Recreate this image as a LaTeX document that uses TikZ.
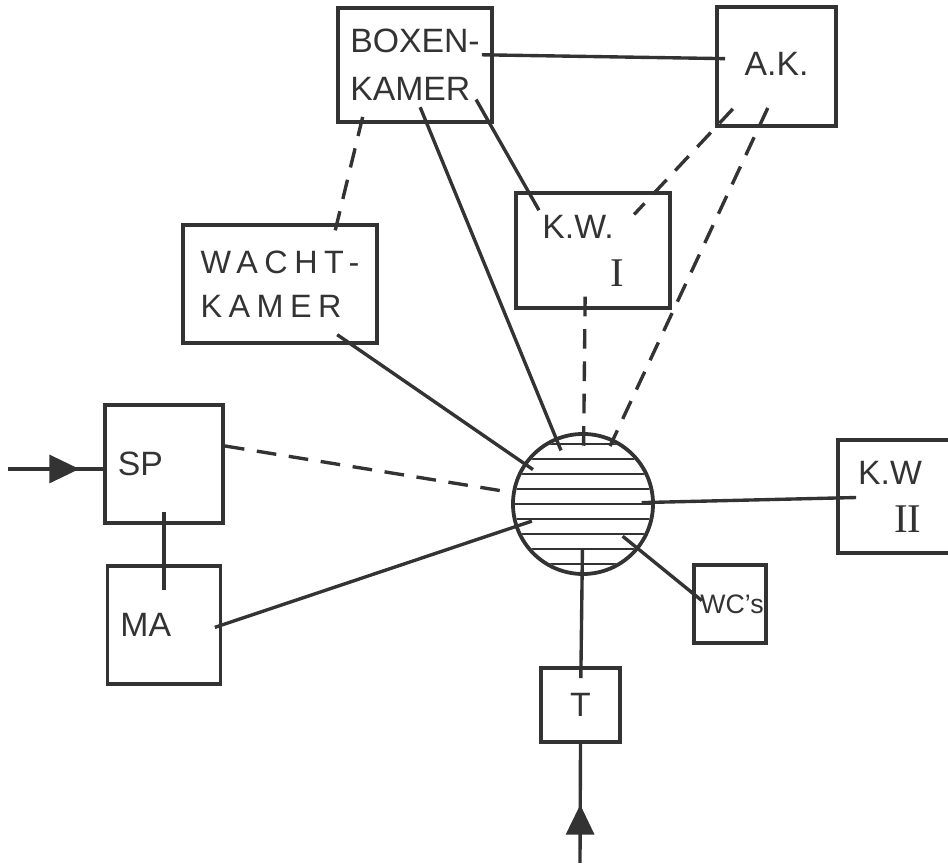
\documentclass[tikz,border=0pt]{standalone}
\usepackage{fontspec}
\setmainfont{Liberation Sans}
\newfontfamily\romanum{Liberation Serif}
\usetikzlibrary{arrows.meta,positioning,decorations.markings}
\colorlet{ink}{black!80}
\newcommand{\hand}{\fontsize{24}{34}\selectfont}
\newcommand{\wachthand}{\fontsize{23}{31}\selectfont\addfontfeatures{LetterSpace=20}}
\newcommand{\smallhand}{\fontsize{19}{22}\selectfont}
\newcommand{\numeral}[1]{{\romanum\fontsize{29}{34}\selectfont #1}}

\begin{document}
\begin{tikzpicture}[x=0.025cm,y=0.025cm,
  room/.style={rectangle,draw=ink,line width=2.7pt,inner sep=0.25cm,
               align=left,text=ink,font=\hand},
  link/.style={draw=ink,line width=2.4pt},
  trail/.style={link,dash pattern=on 14pt off 9pt},
  reach/.style 2 args={shorten <=-#1,shorten >=-#2},
  midtip/.style={postaction={decorate},decoration={markings,
    mark=at position #1 with {\arrow{Triangle[length=0.75cm,width=0.7cm]}}}}]

\clip (0,0) rectangle (948,865);

\node[room,minimum width=3.85cm,minimum height=2.85cm] (boxen) at (415,800) {BOXEN-\\KAMER};
\node[room,minimum width=2.975cm,minimum height=2.975cm,align=center] (ak) at (776.5,798.5)
  {\raisebox{0.15cm}{A.K.}};
\node[room,minimum width=3.85cm,minimum height=2.875cm] (kw1) at (593,614.5)
  {K.W.\hspace*{0.75cm}\\\hspace*{1.7cm}\numeral{I}};
\node[room,minimum width=4.85cm,minimum height=2.95cm,font=\wachthand] (wacht) at (280,581) {WACHT-\\KAMER};
\node[room,text width=2.3cm,inner xsep=0.325cm,minimum height=2.95cm] (sp) at (164,401) {SP};
\node[room,text width=2.175cm,inner xsep=0.325cm,minimum height=2.95cm,below=0.975cm of sp] (ma) {MA};
\node[room,minimum width=3.1cm,minimum height=2.825cm] (kw2) at (900,368.5)
  {K.W\hspace*{0.5cm}\\\hspace*{0.9cm}\numeral{II}};
\node[room,minimum width=1.65cm,minimum height=1.95cm,inner sep=0.05cm,align=center,font=\smallhand] (wc) at (730,261)
  {\hspace*{0.1cm}WC's};
\node[room,minimum width=1.975cm,minimum height=1.85cm,align=center] (t) at (580.5,160) {T};
\node[circle,draw=ink,line width=2.7pt,minimum size=3.5cm,inner sep=0pt] (hub) at (583,361) {};

\begin{scope}
  \clip (hub.center) circle (1.7cm);
  \foreach \dy in {-60,-45,...,60}
    \draw[link,line width=2pt] (hub.center) ++(-75,\dy) -- ++(150,0);
\end{scope}

\coordinate (spin) at (8,396);
\coordinate (tin) at (580,2);
\draw[link,midtip=0.75] (spin) -- (spin -| sp.west);
\draw[link,midtip=0.49] (tin) -- (t.south);

\draw[link,reach={0.3cm}{0.25cm}] ([yshift=0.25cm]boxen.east) -- ([yshift=0.2cm]ak.west);
\draw[link,reach={0.7cm}{0.55cm}] ([xshift=-0.1cm]boxen.south east) -- ([xshift=0.35cm]kw1.north west);
\draw[link,reach={0.45cm}{0.35cm}] ([xshift=0.3cm]boxen.south) -- (hub);
\draw[trail,reach={0.18cm}{0.38cm}] ([xshift=-1.35cm]boxen.south) -- ([xshift=1.425cm]wacht.north);
\draw[trail,reach={0.65cm}{0.8cm}] (ak.south west) -- ([xshift=1.575cm]kw1.north);
\draw[trail,reach={0.55cm}{0.2cm}] ([xshift=-0.45cm]ak.south) -- (hub);
\draw[trail,reach={0.33cm}{0.4cm}] ([xshift=-0.2cm]kw1.south) -- (hub);
\draw[link,reach={0.45cm}{0.28cm}] ([xshift=1.8cm]wacht.south) -- (hub);
\draw[trail] ([yshift=0.45cm]sp.east) -- (hub);
\draw[link,reach={0.2cm}{0.45cm}] (ma.east) -- (hub);
\draw[link,reach={0.33cm}{0.5cm}] (hub) -- (kw2);
\draw[link,reach={0.52cm}{0.3cm}] (hub) -- ([yshift=0.275cm]wc.west);
\draw[link,reach={0.65cm}{0.3cm}] (hub) -- (t);
\draw[link,reach={0.33cm}{0.65cm}] (sp) -- (ma);
\end{tikzpicture}
\end{document}
